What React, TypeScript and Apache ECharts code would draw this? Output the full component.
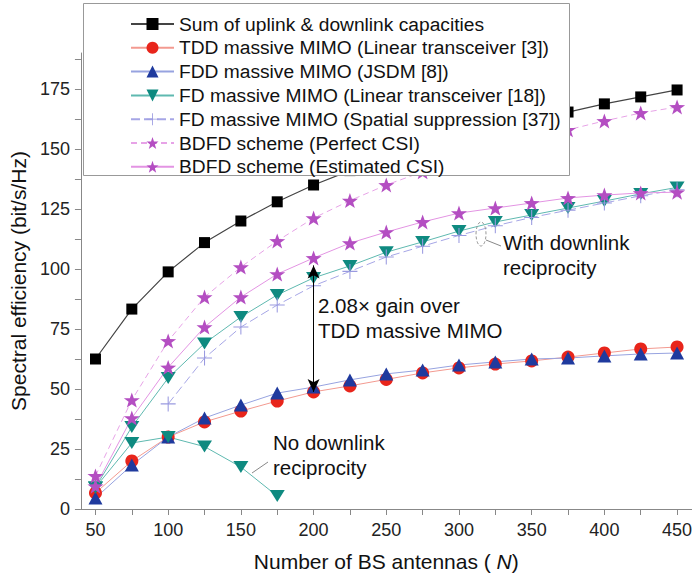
import React, { useEffect, useRef } from "react";
import * as echarts from "echarts";

const antennas = [50, 75, 100, 125, 150, 175, 200, 225, 250, 275, 300, 325, 350, 375, 400, 425, 450];
const sumCapacity = [62.5, 83.3, 98.8, 111, 120, 128, 135, 141, 146, 151, 155, 159, 162.5, 165.4, 168.8, 171.7, 174.6];
const tddLinear = [6.7, 20, 30, 36.3, 40.8, 45, 48.8, 51.3, 54, 56.7, 58.8, 60.4, 61.7, 63.3, 65, 66.7, 67.5];
const fddJsdm = [4.6, 18.3, 30, 37.9, 43.3, 48.3, 50.8, 53.8, 56.3, 57.9, 60, 61.3, 62.5, 62.9, 63.8, 64.6, 65];
const fdLinear = [9, 34.2, 54.6, 69, 80, 89.2, 96.3, 101.3, 107, 111.3, 115.8, 119.6, 122.5, 125.4, 128.3, 131.3, 134];
const fdLinearNoRecipN = [50, 75, 100, 125, 150, 175];
const fdLinearNoRecip = [9, 27.5, 30, 26, 17.5, 5.4];
const fdSpatial = [null, null, 43.8, 62.9, 75.8, 85, 93, 99, 105, 109.5, 114, 118, 121.5, 124.5, 127.5, 130.5, 133];
const bdfdPerfect = [13.8, 45.4, 70, 88.3, 100.8, 111.7, 121.2, 128.5, 135, 140.5, 145.5, 150, 154, 158, 161.7, 165, 167.5];
const bdfdEstimated = [9.5, 37.9, 59, 75.8, 88.3, 97.9, 104.6, 110.8, 115.4, 119.6, 123.3, 125.4, 127.5, 129.6, 130.8, 131.7, 132];
const gainArrow = { n: 200, from: 101.5, to: 48.8 };

const xTickLabels = [50, 100, 150, 200, 250, 300, 350, 400, 450];
const xTicks = [50, 75, 100, 125, 150, 175, 200, 225, 250, 275, 300, 325, 350, 375, 400, 425, 450];
const yTickLabels = [0, 25, 50, 75, 100, 125, 150, 175];
const yTicks = [0, 12.5, 25, 37.5, 50, 62.5, 75, 87.5, 100, 112.5, 125, 137.5, 150, 162.5, 175, 187.5];

const names = [
  "Sum of uplink & downlink capacities",
  "TDD massive MIMO (Linear transceiver [3])",
  "FDD massive MIMO (JSDM [8])",
  "FD massive MIMO (Linear transceiver [18])",
  "FD massive MIMO (Spatial suppression [37])",
  "BDFD scheme (Perfect CSI)",
  "BDFD scheme (Estimated CSI)",
];

const FONT = "'Liberation Sans', Arial, sans-serif";
const STAR =
  "path://M0,-1L0.235,-0.324L0.951,-0.309L0.380,0.124L0.588,0.809L0,0.4L-0.588,0.809L-0.380,0.124L-0.951,-0.309L-0.235,-0.324Z";
const DOWN_TRI = "path://M-1,0L1,0L0,1.6Z";
const PLUS =
  "path://M-0.07,-1H0.07V-0.07H1V0.07H0.07V1H-0.07V0.07H-1V-0.07H-0.07Z";

function pairs(xs: number[], ys: (number | null)[]) {
  return xs.map((x, i) => [x, ys[i]]);
}

export default function App() {
  const ref = useRef<HTMLDivElement>(null);
  useEffect(() => {
    document.body.style.margin = "0";
    const chart = echarts.init(ref.current!, undefined, { renderer: "svg" });
    const textStyle = (t: string, x: number, y: number) => ({
      type: "text",
      x,
      y,
      z: 12,
      style: { text: t, font: `20.5px ${FONT}`, fill: "#111", textVerticalAlign: "middle" },
    });
    chart.setOption({
      animation: false,
      backgroundColor: "#fff",
      textStyle: { fontFamily: FONT },
      grid: { left: 77, right: 2, top: 53, bottom: 71 },
      legend: {
        orient: "vertical",
        left: 83,
        top: 3,
        padding: [11, 0, 0, 47],
        itemWidth: 43,
        itemHeight: 15,
        itemGap: 3.8,
        z: 11,
        data: names,
        textStyle: { fontSize: 19.2, lineHeight: 20, color: "#111", fontFamily: FONT },
      },
      xAxis: {
        type: "value",
        min: 40,
        max: 460,
        name: "{a|Number of BS antennas ( }{i|N}{a|)}",
        nameLocation: "middle",
        nameGap: 42,
        nameTextStyle: {
          rich: {
            a: { fontSize: 21, color: "#111", fontFamily: FONT },
            i: { fontSize: 21, color: "#111", fontStyle: "italic", fontFamily: FONT },
          },
        },
        axisLine: { lineStyle: { color: "#888", width: 1 } },
        axisTick: { customValues: xTicks, length: 6, lineStyle: { color: "#888" } },
        axisLabel: { customValues: xTickLabels, fontSize: 18, color: "#222", margin: 12 },
        splitLine: { show: false },
      },
      yAxis: {
        type: "value",
        min: 0,
        max: 190,
        name: "Spectral efficiency (bit/s/Hz)",
        nameLocation: "middle",
        nameGap: 44,
        nameTextStyle: { fontSize: 21, color: "#111", fontFamily: FONT },
        axisLine: { show: true, lineStyle: { color: "#888", width: 1 } },
        axisTick: { show: true, customValues: yTicks, length: 6, lineStyle: { color: "#888" } },
        axisLabel: { customValues: yTickLabels, fontSize: 18, color: "#222", margin: 11 },
        splitLine: { show: false },
      },
      series: [
        {
          name: names[0],
          type: "line",
          data: pairs(antennas, sumCapacity),
          symbol: "rect",
          symbolSize: 11,
          itemStyle: { color: "#000" },
          lineStyle: { color: "#444", width: 1.2 },
          z: 3,
        },
        {
          name: names[1],
          type: "line",
          data: pairs(antennas, tddLinear),
          symbol: "circle",
          symbolSize: 13,
          itemStyle: { color: "#e8251b" },
          lineStyle: { color: "#f39a90", width: 1 },
          markLine: {
            silent: true,
            symbol: ["arrow", "arrow"],
            symbolSize: [9, 13],
            label: { show: false },
            lineStyle: { color: "#000", width: 1, type: "solid" },
            data: [[{ coord: [gainArrow.n, gainArrow.from] }, { coord: [gainArrow.n, gainArrow.to] }]],
            z: 8,
          },
        },
        {
          name: names[2],
          type: "line",
          data: pairs(antennas, fddJsdm),
          symbol: "triangle",
          symbolSize: [14, 13],
          itemStyle: { color: "#1f3a9e" },
          lineStyle: { color: "#97a3e0", width: 1 },
        },
        {
          name: names[3],
          type: "line",
          data: pairs(antennas, fdLinear),
          symbol: DOWN_TRI,
          symbolSize: [15, 12],
          itemStyle: { color: "#0e8a80" },
          lineStyle: { color: "#5fb9b0", width: 1 },
        },
        {
          name: names[3],
          type: "line",
          data: pairs(fdLinearNoRecipN, fdLinearNoRecip),
          symbol: DOWN_TRI,
          symbolSize: [15, 12],
          itemStyle: { color: "#0e8a80" },
          lineStyle: { color: "#5fb9b0", width: 1 },
        },
        {
          name: names[4],
          type: "line",
          data: pairs(antennas, fdSpatial),
          symbol: PLUS,
          symbolSize: 15,
          itemStyle: { color: "#9a9ae0" },
          lineStyle: { color: "#a6a6e6", width: 1, type: [9, 4] },
        },
        {
          name: names[5],
          type: "line",
          data: pairs(antennas, bdfdPerfect),
          symbol: STAR,
          symbolSize: [16, 15],
          itemStyle: { color: "#b44ec2" },
          lineStyle: { color: "#e7a3e7", width: 1, type: [6, 4] },
        },
        {
          name: names[6],
          type: "line",
          data: pairs(antennas, bdfdEstimated),
          symbol: STAR,
          symbolSize: [16, 15],
          itemStyle: { color: "#b44ec2" },
          lineStyle: { color: "#e394e3", width: 1 },
        },
      ],
      graphic: [
        {
          type: "rect",
          z: 10,
          shape: { x: 83.5, y: 3.5, width: 486, height: 172 },
          style: { fill: "#fff", stroke: "#999", lineWidth: 1 },
        },
        textStyle("2.08× gain over", 318, 305),
        textStyle("TDD massive MIMO", 318, 330),
        textStyle("With downlink", 503, 242),
        textStyle("reciprocity", 503, 267),
        textStyle("No downlink", 273, 442),
        textStyle("reciprocity", 273, 467),
        {
          type: "ellipse",
          z: 12,
          shape: { cx: 481, cy: 234, rx: 5, ry: 12 },
          style: { fill: "none", stroke: "#999", lineWidth: 1, lineDash: [3, 2] },
        },
        {
          type: "line",
          z: 12,
          shape: { x1: 486, y1: 240, x2: 501, y2: 246 },
          style: { stroke: "#888", lineWidth: 1 },
        },
        {
          type: "line",
          z: 12,
          shape: { x1: 252, y1: 473, x2: 268, y2: 462 },
          style: { stroke: "#888", lineWidth: 1 },
        },
      ],
    });
    return () => chart.dispose();
  }, []);
  return <div ref={ref} style={{ width: 695, height: 580 }} />;
}
